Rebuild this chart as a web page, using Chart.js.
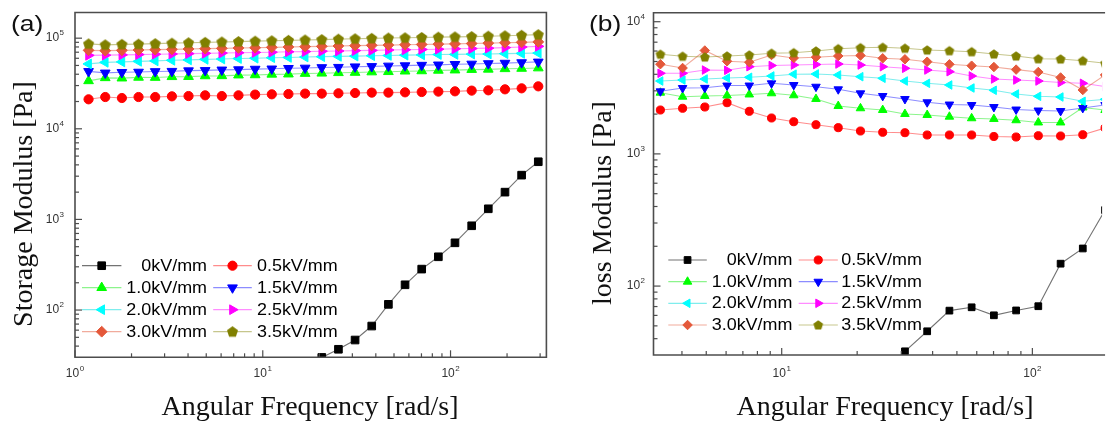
<!DOCTYPE html>
<html>
<head>
<meta charset="utf-8">
<script src="https://cdn.jsdelivr.net/npm/chart.js@4.4.1/dist/chart.umd.min.js"></script>
<style>
html,body{margin:0;padding:0;background:#fff;width:1108px;height:421px;overflow:hidden;position:relative;}
canvas{position:absolute;top:0;}
#ca{left:0;}
#cb{left:554px;}
.t{position:absolute;font-family:"Liberation Serif","Times New Roman",serif;font-size:28px;line-height:28px;color:#111;white-space:nowrap;text-align:center;}
.p{position:absolute;font-family:"Liberation Sans",Arial,sans-serif;font-size:22px;line-height:22px;color:#111;white-space:nowrap;transform-origin:0 50%;transform:scaleX(1.2);}
</style>
</head>
<body>
<canvas id="ca" width="554" height="421"></canvas>
<canvas id="cb" width="554" height="421"></canvas>
<div class="p" style="left:10.7px;top:13.4px;">(a)</div>
<div class="p" style="left:589px;top:13.4px;">(b)</div>
<div class="t" style="left:110px;width:400px;top:391.6px;">Angular Frequency [rad/s]</div>
<div class="t" style="left:685px;width:400px;top:391.6px;">Angular Frequency [rad/s]</div>
<div class="t" style="left:-176.9px;top:189.5px;width:400px;transform:rotate(-90deg);">Storage Modulus [Pa]</div>
<div class="t" style="left:401.6px;top:189px;width:400px;transform:rotate(-90deg);">loss Modulus [Pa]</div>
<script>
// ---------------- data ----------------
const freq = [1.181, 1.449, 1.777, 2.180, 2.674, 3.281, 4.024, 4.935, 6.053, 7.425, 9.108, 11.17, 13.70, 16.81,
  20.62, 25.29, 31.02, 38.05, 46.67, 57.25, 70.22, 86.13, 105.6, 129.6, 158.9, 195.0, 239.1, 293.3];

const seriesLabels = ['0kV/mm', '0.5kV/mm', '1.0kV/mm', '1.5kV/mm', '2.0kV/mm', '2.5kV/mm', '3.0kV/mm', '3.5kV/mm'];

// Storage modulus (panel a)
const storage00 = [null, null, null, null, null, null, null, null, null, null, null, null, null, null,
  30, 36.9, 46.7, 66.6, 115.6, 190, 283, 387, 552, 851, 1310, 2000, 3080, 4330];
const storage05 = [21150, 22420, 21860, 22420, 22420, 22820, 22990, 23400, 22990, 23400, 23840, 24020, 24200, 24450,
  24450, 24640, 24820, 25070, 25070, 25260, 25460, 25720, 25910, 26380, 26580, 27260, 27960, 29410];
const storage10 = [33800, 36500, 36200, 36900, 36800, 37500, 37600, 38300, 38400, 39100, 39300, 39900, 40100, 40700,
  41000, 41500, 41800, 42300, 42600, 43200, 43500, 44100, 44400, 45000, 45300, 45900, 46300, 46800];
const storage15 = [43000, 41400, 42000, 42300, 42900, 43200, 43800, 44100, 44700, 45000, 45600, 45900, 46500, 46900,
  47500, 47800, 48400, 48800, 49400, 49800, 50400, 50800, 51500, 51900, 52500, 53100, 53800, 54700];
const storage20 = [52000, 54100, 54700, 55500, 56100, 57000, 57600, 58400, 58900, 59600, 60100, 60800, 61300, 62000,
  62500, 63000, 63400, 64000, 64400, 65000, 65400, 66000, 66200, 66700, 66900, 67500, 67900, 68500];
const storage25 = [64600, 65000, 65400, 65900, 66500, 66900, 67500, 68000, 68500, 69000, 69600, 70000, 70700, 71100,
  71800, 72200, 72900, 73300, 74000, 74400, 75100, 75600, 76300, 76800, 77600, 78600, 79800, 81200];
const storage30 = [73400, 72800, 73400, 74000, 74700, 75200, 76000, 76600, 77200, 78000, 78500, 79200, 80000, 80600,
  81200, 82000, 82700, 83300, 83900, 84600, 85200, 85900, 86500, 87200, 88100, 89000, 89900, 91000];
const storage35 = [86500, 84400, 85500, 85900, 87000, 88100, 89000, 89900, 90800, 91700, 92700, 93600, 94600, 95500,
  96500, 97500, 98500, 99500, 100300, 101000, 101800, 102600, 103300, 104100, 105200, 106300, 107600, 109300];

// Loss modulus (panel b)
const loss00 = [null, null, null, null, null, null, null, null, null, null, null, null, null, null, null, null,
  32.1, 45.5, 65.2, 69.1, 60.1, 65.4, 70.4, 147.7, 192.5, 376, null, null];
const loss05 = [null, null, null, null, null, 2148, 2213, 2263, 2440, 2100, 1869, 1752, 1663, 1579, 1490, 1457,
  1447, 1390, 1390, 1390, 1354, 1342, 1373, 1366, 1397, 1571, null, null];
const loss10 = [null, null, null, null, null, 2903, 2708, 2742, 2765, 2814, 2873, 2775, 2602, 2303, 2213, 2148,
  2003, 1969, 1911, 1859, 1837, 1796, 1728, 1728, 2244, 2148, null, null];
const loss15 = [null, null, null, null, null, 2975, 3151, 3162, 3292, 3292, 3420, 3320, 3223, 3081, 2873, 2742,
  2602, 2457, 2364, 2344, 2263, 2167, 2130, 2111, 2225, 2344, null, null];
const loss20 = [null, null, null, null, null, 3559, 3622, 3686, 3751, 3797, 3886, 4009, 4023, 3954, 3837, 3732,
  3559, 3420, 3320, 3151, 3028, 2839, 2728, 2694, 2500, 2588, null, null];
const loss25 = [null, null, null, null, null, 4072, 4072, 4311, 4290, 4566, 4663, 4704, 4745, 4786, 4704, 4566,
  4441, 4311, 4187, 3886, 3686, 3622, 3559, 3469, 3420, 3234, null, null];
const loss30 = [null, null, null, null, null, 4770, 4465, 6055, 5018, 4939, 5600, 5315, 5390, 5502, 5550, 5287,
  5195, 4982, 4762, 4648, 4543, 4342, 4165, 3785, 3044, 3950, null, null];
const loss35 = [null, null, null, null, null, 5668, 5474, 5408, 5502, 5598, 5768, 5828, 6003, 6248, 6357, 6402,
  6292, 6109, 6034, 5929, 5698, 5502, 5241, 5222, 5070, 4845, null, null];

// axis ranges and major tick values
const xRangeA = [1, 324];
const yRangeA = [30.1, 192000];
const xRangeB = [3.08, 189.7];
const yRangeB = [30.1, 11700];
const xMajorA = [1, 10, 100];
const yMajorA = [100, 1000, 10000, 100000];
const xMajorB = [10, 100];
const yMajorB = [100, 1000, 10000];

// ---------------- styling ----------------
const markerColors = ['#000000', '#ff0000', '#00ff00', '#0000ff', '#00ffff', '#ff00ff', '#e4583a', '#808000'];
const lineColors = ['rgba(90,90,90,0.85)', 'rgba(255,0,0,0.45)', 'rgba(0,230,0,0.45)', 'rgba(0,0,255,0.45)',
  'rgba(0,220,220,0.5)', 'rgba(255,0,255,0.45)', 'rgba(228,88,58,0.5)', 'rgba(128,128,0,0.45)'];
const FONT = '"Liberation Sans", Arial, sans-serif';

function makePentagon(r, color) {
  const c = document.createElement('canvas');
  const s = Math.ceil(2 * r + 3);
  c.width = s; c.height = s;
  const g = c.getContext('2d');
  g.fillStyle = color;
  g.beginPath();
  for (let k = 0; k < 5; k++) {
    const a = -Math.PI / 2 + k * 2 * Math.PI / 5;
    const px = s / 2 + r * Math.cos(a), py = s / 2 + r * Math.sin(a) + 0.4;
    if (k === 0) g.moveTo(px, py); else g.lineTo(px, py);
  }
  g.closePath();
  g.fill();
  return c;
}

function markerSet(scale) {
  return {
    shapes: ['rect', 'circle', 'triangle', 'triangle', 'triangle', 'triangle', 'rectRot', makePentagon(5.8 * scale, markerColors[7])],
    rot: [0, 0, 0, 180, 270, 90, 0, 0],
    r: [5.4 * scale, 4.6 * scale, 5.6 * scale, 5.6 * scale, 5.6 * scale, 5.6 * scale, 5.4 * scale, 5.4 * scale]
  };
}

function buildDatasets(seriesList, m) {
  return seriesList.map((vals, i) => ({
    label: seriesLabels[i],
    data: freq.map((f, k) => ({ x: f, y: vals[k] })).filter(p => p.y !== null),
    borderColor: lineColors[i],
    backgroundColor: markerColors[i],
    pointBackgroundColor: markerColors[i],
    pointBorderColor: markerColors[i],
    pointStyle: m.shapes[i],
    pointRotation: m.rot[i],
    pointRadius: m.r[i],
    pointBorderWidth: 1,
    borderWidth: 1.1,
    tension: 0,
    order: 7 - i
  }));
}

function axisTicks(min, max) {
  const out = [];
  for (let d = Math.floor(Math.log10(min)); d <= Math.ceil(Math.log10(max)); d++) {
    for (let m = 1; m <= 9; m++) {
      const v = m * Math.pow(10, d);
      if (v >= min * 0.9999 && v <= max * 1.0001) out.push({ v, major: m === 1 });
    }
  }
  return out;
}

function drawPow(ctx, value, x, y, align) {
  const e = String(Math.round(Math.log10(value)));
  ctx.font = '12px ' + FONT;
  const w1 = ctx.measureText('10').width;
  ctx.font = '8px ' + FONT;
  const w2 = ctx.measureText(e).width;
  const total = w1 + w2 + 0.5;
  const sx = align === 'center' ? x - total / 2 : x - total;
  ctx.fillStyle = '#333';
  ctx.textBaseline = 'middle';
  ctx.textAlign = 'left';
  ctx.font = '12px ' + FONT;
  ctx.fillText('10', sx, y);
  ctx.font = '8px ' + FONT;
  ctx.fillText(e, sx + w1 + 0.5, y - 5);
}

function drawMarker(ctx, ds, x, y) {
  ctx.fillStyle = ds.pointBackgroundColor;
  ctx.strokeStyle = ds.pointBorderColor;
  ctx.lineWidth = 1;
  if (Chart.helpers && Chart.helpers.drawPoint) {
    Chart.helpers.drawPoint(ctx, { pointStyle: ds.pointStyle, rotation: ds.pointRotation || 0, radius: ds.pointRadius, borderWidth: 1 }, x, y);
  } else {
    ctx.beginPath(); ctx.arc(x, y, ds.pointRadius, 0, Math.PI * 2); ctx.fill();
  }
}

function framePlugin(cfg) {
  return {
    id: 'frame' + cfg.name,
    afterDatasetsDraw(chart) {
      const ctx = chart.ctx, a = chart.chartArea, xs = chart.scales.x, ys = chart.scales.y;
      ctx.save();
      // frame
      ctx.strokeStyle = '#4d4d4d';
      ctx.lineWidth = 1.6;
      ctx.beginPath();
      if (cfg.rightBorder) {
        ctx.rect(a.left, a.top, a.right - a.left, a.bottom - a.top);
      } else {
        ctx.moveTo(a.right + 3, a.top); ctx.lineTo(a.left, a.top);
        ctx.lineTo(a.left, a.bottom); ctx.lineTo(a.right + 3, a.bottom);
      }
      ctx.stroke();
      // inward ticks
      ctx.lineWidth = 1.2;
      ctx.strokeStyle = '#4d4d4d';
      axisTicks(xs.min, xs.max).forEach(t => {
        const px = xs.getPixelForValue(t.v);
        ctx.beginPath(); ctx.moveTo(px, a.bottom); ctx.lineTo(px, a.bottom - (t.major ? 7 : 4)); ctx.stroke();
      });
      axisTicks(ys.min, ys.max).forEach(t => {
        const py = ys.getPixelForValue(t.v);
        ctx.beginPath(); ctx.moveTo(a.left, py); ctx.lineTo(a.left + (t.major ? 7 : 4), py); ctx.stroke();
      });
      // tick labels
      cfg.xMajor.forEach(v => drawPow(ctx, v, xs.getPixelForValue(v), a.bottom + cfg.xLabelDy, 'center'));
      cfg.yMajor.forEach(v => drawPow(ctx, v, a.left - cfg.yLabelDx, ys.getPixelForValue(v), 'right'));
      // legend
      const L = cfg.legend;
      chart.data.datasets.forEach((ds, i) => {
        const col = i % 2, row = Math.floor(i / 2);
        const y = L.rows[row];
        const seg = col === 0 ? L.c1 : L.c2;
        ctx.strokeStyle = ds.borderColor;
        ctx.lineWidth = 1.2;
        ctx.beginPath(); ctx.moveTo(seg[0], y); ctx.lineTo(seg[1], y); ctx.stroke();
        drawMarker(ctx, ds, (seg[0] + seg[1]) / 2, y);
        ctx.save();
        ctx.font = L.font;
        ctx.fillStyle = '#000';
        ctx.textBaseline = 'middle';
        ctx.textAlign = 'left';
        const w = ctx.measureText(ds.label).width * L.sx;
        const tx = col === 0 ? L.t1 - w : L.t2;
        ctx.translate(tx, y + 0.5);
        ctx.scale(L.sx, 1);
        ctx.fillText(ds.label, 0, 0);
        ctx.restore();
      });
      ctx.restore();
    }
  };
}

function makeChart(id, cfg) {
  return new Chart(document.getElementById(id), {
    type: 'line',
    data: { datasets: cfg.datasets },
    options: {
      responsive: false,
      animation: false,
      devicePixelRatio: 1,
      events: [],
      layout: { padding: cfg.padding },
      plugins: { legend: { display: false }, tooltip: { enabled: false } },
      scales: {
        x: {
          type: 'logarithmic', min: cfg.xRange[0], max: cfg.xRange[1],
          grid: { display: false }, border: { display: false }, ticks: { display: false },
          afterFit: s => { s.height = cfg.xAxisH; }
        },
        y: {
          type: 'logarithmic', min: cfg.yRange[0], max: cfg.yRange[1],
          grid: { display: false }, border: { display: false }, ticks: { display: false },
          afterFit: s => { s.width = cfg.yAxisW; }
        }
      }
    },
    plugins: [framePlugin(cfg)]
  });
}

makeChart('ca', {
  name: 'A',
  datasets: buildDatasets([storage00, storage05, storage10, storage15, storage20, storage25, storage30, storage35], markerSet(1)),
  padding: { top: 12.5, right: 7.6, bottom: 0, left: 0 },
  xAxisH: 63.7, yAxisW: 75,
  xRange: xRangeA, yRange: yRangeA,
  xMajor: xMajorA, yMajor: yMajorA,
  xLabelDy: 16, yLabelDx: 11,
  rightBorder: true,
  legend: { rows: [265.7, 287.7, 309.7, 331.7], c1: [82, 121.4], c2: [213.2, 251.8], t1: 207, t2: 257,
            font: '16px ' + FONT, sx: 1.12 }
});

makeChart('cb', {
  name: 'B',
  datasets: buildDatasets([loss00, loss05, loss10, loss15, loss20, loss25, loss30, loss35], markerSet(0.88)),
  padding: { top: 12.7, right: 0, bottom: 0, left: 0 },
  xAxisH: 66, yAxisW: 99.5,
  xRange: xRangeB, yRange: yRangeB,
  xMajor: xMajorB, yMajor: yMajorB,
  xLabelDy: 19, yLabelDx: 8.5,
  rightBorder: false,
  legend: { rows: [260, 281.7, 303.3, 325], c1: [114.3, 152.8], c2: [244.7, 283.8], t1: 238.4, t2: 287.3,
            font: '16px ' + FONT, sx: 1.12 }
});
</script>
</body>
</html>
